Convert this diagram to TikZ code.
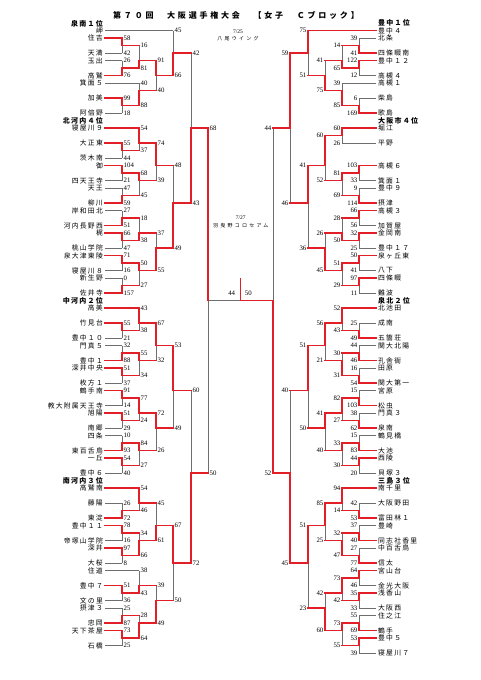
\documentclass[tikz,border=0pt]{standalone}
\usepackage{fontspec}
\setmainfont{Liberation Serif}
\newfontfamily\jp[LetterSpace=18]{Noto Sans CJK JP}
\newfontfamily\jpt[LetterSpace=35]{Noto Sans CJK JP}
\newfontfamily\jpd[LetterSpace=45]{Noto Sans CJK JP}
\definecolor{myred}{RGB}{226,30,38}
\definecolor{mygray}{RGB}{110,110,110}
\pgfdeclarelayer{back}
\pgfdeclarelayer{bg}
\pgfsetlayers{back,bg,main}
\tikzset{
  win/.style={draw=myred, line width=1.3pt, line cap=rect},
  lose/.style={draw=mygray, line width=0.6pt},
  sc/.style={font=\fontsize{6.8}{7}\selectfont, inner sep=0.3pt, anchor=west, xshift=1.2pt},
  tn/.style={font=\jp\fontsize{6.8}{8}\selectfont, inner sep=0pt, anchor=east},
  hd/.style={font=\jp\bfseries\fontsize{7}{8}\selectfont, inner sep=0pt, anchor=east},
  dt/.style={font=\fontsize{5.5}{6}\selectfont, inner sep=0pt},
  dtj/.style={font=\jpd\fontsize{5}{6}\selectfont, inner sep=0pt},
  fs/.style={font=\fontsize{6.8}{7}\selectfont, inner sep=0pt}
}
\def\Wn{W}\def\Ls{L}
\newcommand\Seg[2]{\ifx#1\Wn\draw[win] #2;\else\begin{pgfonlayer}{bg}\draw[lose] #2;\end{pgfonlayer}\fi}
% #1 col, #2 src x top, #3 row top, #4 src x bot, #5 row bot, #6 out row, #7 score top, #8 score bot, #9 winner
\newcommand\Mt[9]{%
  \ifnum#2=105\relax\ifnum#9=1\relax\let\tc\Wn\else\let\tc\Ls\fi\else\let\tc\Wn\fi
  \ifnum#4=105\relax\ifnum#9=2\relax\let\bc\Wn\else\let\bc\Ls\fi\else\let\bc\Wn\fi
  \ifnum#9=1\relax\let\vt\Wn\let\vb\Ls\else\let\vt\Ls\let\vb\Wn\fi
  \Seg\tc{(#2,#3) -- (#1,#3)}%
  \Seg\bc{(#4,#5) -- (#1,#5)}%
  \Seg\vt{(#1,#3) -- (#1,#6)}%
  \Seg\vb{(#1,#6) -- (#1,#5)}%
  \node[sc] at (#1,#3) {#7};
  \node[sc] at (#1,#5) {#8};
}
\newcommand\Tm[2]{\node[tn] (\sd#1) at (103,#1) {#2};}
\newcommand\Hd[2]{\node[hd] (h\sd#1) at (103,#1) {#2};}
\begin{document}
\begin{tikzpicture}[x=1pt,y=1pt]
\useasboundingbox (0,0) rectangle (481,-680);
\begin{pgfonlayer}{back}\fill[white] (0,0) rectangle (481,-680);\end{pgfonlayer}
\node[font=\jpt\bfseries\fontsize{8}{9}\selectfont, inner sep=0pt] (title) at (236,-15) {第７０回　大阪選手権大会　【女子　Ｃブロック】};
\node[dt] (d1) at (238,-31.7) {7/25};
\node[dtj] (v1) at (238,-38.6) {八尾ウイング};
\node[dt] (d2) at (240.7,-218) {7/27};
\node[dtj] (v2) at (240.7,-225.7) {羽曳野コロセアム};
%%%%%%%%%%%%%%%% LEFT
\begin{scope}[y=-7.5pt, yshift=-30.6pt]
\def\sd{L}
\Hd{-0.9}{泉南１位}\Hd{12}{北河内４位}\Hd{36}{中河内２位}\Hd{60}{南河内３位}
\Tm{0}{岬}\Tm{1}{住吉}\Tm{3}{天満}\Tm{4}{玉出}\Tm{6}{高鷲}\Tm{7}{箕面５}\Tm{9}{加美}\Tm{11}{阿倍野}
\Tm{13}{寝屋川９}\Tm{15}{大正東}\Tm{17}{茨木南}\Tm{18}{御}\Tm{20}{四天王寺}\Tm{21}{天王}\Tm{23}{柳川}
\Tm{24}{岸和田北}\Tm{26}{河内長野西}\Tm{27}{梶}\Tm{29}{桃山学院}\Tm{30}{泉大津東陵}\Tm{32}{寝屋川８}\Tm{33}{新生野}\Tm{35}{佐井寺}
\Tm{37}{高美}\Tm{39}{竹見台}\Tm{41}{豊中１０}\Tm{42}{門真５}\Tm{44}{豊中１}\Tm{45}{深井中央}\Tm{47}{枚方１}
\Tm{48}{鶴手南}\Tm{50}{教大附属天王寺}\Tm{51}{旭陽}\Tm{53}{南郷}\Tm{54}{四条}\Tm{56}{東百舌鳥}\Tm{57}{一丘}\Tm{59}{豊中６}
\Tm{61}{高鷲南}\Tm{63}{藤陽}\Tm{65}{東淀}\Tm{66}{豊中１１}\Tm{68}{帝塚山学院}\Tm{69}{深井}\Tm{71}{大桜}
\Tm{72}{住道}\Tm{74}{豊中７}\Tm{76}{文の里}\Tm{77}{摂津３}\Tm{79}{忠岡}\Tm{80}{天下茶屋}\Tm{82}{石橋}
\Mt{122}{105}{1}{105}{3}{2}{58}{42}{1}
\Mt{122}{105}{4}{105}{6}{5}{26}{76}{2}
\Mt{139}{122}{2}{122}{5}{4}{16}{81}{2}
\Mt{122}{105}{9}{105}{11}{10}{99}{18}{1}
\Mt{139}{105}{7}{122}{10}{8}{40}{88}{2}
\Mt{156}{139}{4}{139}{8}{6}{91}{40}{1}
\Mt{173}{105}{0}{156}{6}{3}{45}{66}{2}
\Mt{122}{105}{15}{105}{17}{16}{55}{44}{1}
\Mt{139}{105}{13}{122}{16}{15}{54}{37}{1}
\Mt{122}{105}{18}{105}{20}{19}{104}{21}{1}
\Mt{122}{105}{21}{105}{23}{22}{47}{59}{2}
\Mt{139}{122}{19}{122}{22}{20}{68}{45}{1}
\Mt{156}{139}{15}{139}{20}{18}{74}{39}{1}
\Mt{122}{105}{24}{105}{26}{25}{27}{51}{2}
\Mt{122}{105}{27}{105}{29}{28}{66}{47}{1}
\Mt{139}{122}{25}{122}{28}{27}{18}{38}{2}
\Mt{122}{105}{30}{105}{32}{31}{71}{16}{1}
\Mt{122}{105}{33}{105}{35}{34}{0}{157}{2}
\Mt{139}{122}{31}{122}{34}{32}{50}{27}{1}
\Mt{156}{139}{27}{139}{32}{29}{37}{55}{2}
\Mt{173}{156}{18}{156}{29}{23}{48}{49}{2}
\Mt{191}{173}{3}{173}{23}{13}{42}{43}{2}
\Mt{122}{105}{39}{105}{41}{40}{55}{21}{1}
\Mt{139}{105}{37}{122}{40}{39}{43}{38}{1}
\Mt{122}{105}{42}{105}{44}{43}{32}{88}{2}
\Mt{122}{105}{45}{105}{47}{46}{51}{37}{1}
\Mt{139}{122}{43}{122}{46}{44}{55}{34}{1}
\Mt{156}{139}{39}{139}{44}{42}{67}{32}{1}
\Mt{122}{105}{48}{105}{50}{49}{91}{14}{1}
\Mt{122}{105}{51}{105}{53}{52}{51}{29}{1}
\Mt{139}{122}{49}{122}{52}{51}{77}{24}{1}
\Mt{122}{105}{54}{105}{56}{55}{10}{93}{2}
\Mt{122}{105}{57}{105}{59}{58}{54}{40}{1}
\Mt{139}{122}{55}{122}{58}{56}{84}{27}{1}
\Mt{156}{139}{51}{139}{56}{53}{72}{26}{1}
\Mt{173}{156}{42}{156}{53}{48}{53}{49}{1}
\Mt{122}{105}{63}{105}{65}{64}{26}{72}{2}
\Mt{139}{105}{61}{122}{64}{63}{54}{46}{1}
\Mt{122}{105}{66}{105}{68}{67}{78}{16}{1}
\Mt{122}{105}{69}{105}{71}{70}{97}{8}{1}
\Mt{139}{122}{67}{122}{70}{68}{34}{66}{2}
\Mt{156}{139}{63}{139}{68}{66}{45}{61}{2}
\Mt{122}{105}{74}{105}{76}{75}{51}{36}{1}
\Mt{139}{105}{72}{122}{75}{74}{38}{43}{2}
\Mt{122}{105}{77}{105}{79}{78}{25}{87}{2}
\Mt{122}{105}{80}{105}{82}{81}{73}{25}{1}
\Mt{139}{122}{78}{122}{81}{79}{28}{64}{2}
\Mt{156}{139}{74}{139}{79}{76}{39}{49}{2}
\Mt{173}{156}{66}{156}{76}{71}{67}{50}{1}
\Mt{191}{173}{48}{173}{71}{59}{60}{72}{2}
\Mt{208}{191}{13}{191}{59}{36}{68}{50}{1}
% final
\coordinate (fl) at (208,36);
\coordinate (fc) at (240.5,36);
\coordinate (fr) at (273,36);
\coordinate (ft) at (240.5,33.1);
\begin{pgfonlayer}{bg}\draw[lose] (fl) -- (fc);\end{pgfonlayer}
\draw[win] (fc) -- (fr);
\draw[win] (fc) -- (ft);
\node[fs] (fsl) at (231.7,35.0) {44};
\node[fs] (fsr) at (248.3,35.0) {50};
\end{scope}
%%%%%%%%%%%%%%%% RIGHT
\begin{scope}[y=-7.5pt, yshift=-30.6pt, x=-1pt, xshift=481pt,
  sc/.style={font=\fontsize{6.8}{7}\selectfont, inner sep=0.3pt, anchor=east, xshift=-1.2pt},
  tn/.style={font=\jp\fontsize{6.8}{8}\selectfont, inner sep=0pt, anchor=west},
  hd/.style={font=\jp\bfseries\fontsize{7}{8}\selectfont, inner sep=0pt, anchor=west}]
\def\sd{R}
\Hd{-1}{豊中１位}\Hd{12}{大阪市４位}\Hd{36}{泉北２位}\Hd{60}{三島３位}
\Tm{0}{豊中４}\Tm{1}{北条}\Tm{3}{四條畷南}\Tm{4}{豊中１２}\Tm{6}{高槻４}\Tm{7}{高槻１}\Tm{9}{柴島}\Tm{11}{歌島}
\Tm{13}{堀江}\Tm{15}{平野}\Tm{18}{高槻６}\Tm{20}{箕面１}\Tm{21}{豊中９}\Tm{23}{摂津}\Tm{24}{高槻３}\Tm{26}{加賀屋}
\Tm{27}{金岡南}\Tm{29}{豊中１７}\Tm{30}{泉ヶ丘東}\Tm{32}{八下}\Tm{33}{四條畷}\Tm{35}{難波}
\Tm{37}{北池田}\Tm{39}{成南}\Tm{41}{五箇荘}\Tm{42}{関大北陽}\Tm{44}{孔舎衙}\Tm{45}{田原}\Tm{47}{関大第一}
\Tm{48}{宮原}\Tm{50}{松虫}\Tm{51}{門真３}\Tm{53}{泉南}\Tm{54}{鶴見橋}\Tm{56}{大池}\Tm{57}{西陵}\Tm{59}{貝塚３}
\Tm{61}{南千里}\Tm{63}{大阪野田}\Tm{65}{富田林１}\Tm{66}{豊崎}\Tm{68}{同志社香里}\Tm{69}{中百舌鳥}\Tm{71}{信太}
\Tm{72}{宮山台}\Tm{74}{金光大阪}\Tm{75}{浅香山}\Tm{77}{大阪西}\Tm{78}{住之江}\Tm{80}{鶴手}\Tm{81}{豊中５}\Tm{83}{寝屋川７}
\Mt{122}{105}{1}{105}{3}{2}{39}{41}{2}
\Mt{122}{105}{4}{105}{6}{5}{122}{12}{1}
\Mt{139}{122}{2}{122}{5}{4}{14}{65}{2}
\Mt{122}{105}{9}{105}{11}{10}{6}{169}{2}
\Mt{139}{105}{7}{122}{10}{8}{39}{85}{2}
\Mt{156}{139}{4}{139}{8}{6}{41}{75}{2}
\Mt{173}{105}{0}{156}{6}{3}{75}{51}{1}
\Mt{139}{105}{13}{105}{15}{14}{60}{26}{1}
\Mt{122}{105}{18}{105}{20}{19}{103}{33}{1}
\Mt{122}{105}{21}{105}{23}{22}{9}{114}{2}
\Mt{139}{122}{19}{122}{22}{20}{81}{69}{1}
\Mt{156}{139}{14}{139}{20}{18}{60}{52}{1}
\Mt{122}{105}{24}{105}{26}{25}{66}{56}{1}
\Mt{122}{105}{27}{105}{29}{28}{32}{25}{1}
\Mt{139}{122}{25}{122}{28}{27}{28}{50}{2}
\Mt{122}{105}{30}{105}{32}{31}{50}{41}{1}
\Mt{122}{105}{33}{105}{35}{34}{97}{11}{1}
\Mt{139}{122}{31}{122}{34}{32}{51}{29}{1}
\Mt{156}{139}{27}{139}{32}{29}{26}{45}{2}
\Mt{173}{156}{18}{156}{29}{23}{41}{36}{1}
\Mt{191}{173}{3}{173}{23}{13}{59}{46}{1}
\Mt{122}{105}{39}{105}{41}{40}{25}{49}{2}
\Mt{139}{105}{37}{122}{40}{39}{52}{43}{1}
\Mt{122}{105}{42}{105}{44}{43}{44}{46}{2}
\Mt{122}{105}{45}{105}{47}{46}{16}{54}{2}
\Mt{139}{122}{43}{122}{46}{44}{30}{31}{2}
\Mt{156}{139}{39}{139}{44}{42}{56}{21}{1}
\Mt{122}{105}{48}{105}{50}{49}{15}{103}{2}
\Mt{122}{105}{51}{105}{53}{52}{38}{62}{2}
\Mt{139}{122}{49}{122}{52}{51}{82}{27}{1}
\Mt{122}{105}{54}{105}{56}{55}{15}{83}{2}
\Mt{122}{105}{57}{105}{59}{58}{44}{20}{1}
\Mt{139}{122}{55}{122}{58}{56}{33}{30}{1}
\Mt{156}{139}{51}{139}{56}{53}{41}{40}{1}
\Mt{173}{156}{42}{156}{53}{48}{51}{50}{1}
\Mt{122}{105}{63}{105}{65}{64}{42}{53}{2}
\Mt{139}{105}{61}{122}{64}{63}{94}{14}{1}
\Mt{122}{105}{66}{105}{68}{67}{37}{40}{2}
\Mt{122}{105}{69}{105}{71}{70}{27}{77}{2}
\Mt{139}{122}{67}{122}{70}{68}{32}{47}{2}
\Mt{156}{139}{63}{139}{68}{66}{85}{25}{1}
\Mt{122}{105}{72}{105}{74}{73}{64}{46}{1}
\Mt{122}{105}{75}{105}{77}{76}{35}{33}{1}
\Mt{139}{122}{73}{122}{76}{75}{73}{42}{1}
\Mt{122}{105}{78}{105}{80}{79}{55}{69}{2}
\Mt{122}{105}{81}{105}{83}{82}{53}{39}{1}
\Mt{139}{122}{79}{122}{82}{80}{73}{55}{1}
\Mt{156}{139}{75}{139}{80}{77}{42}{60}{2}
\Mt{173}{156}{66}{156}{77}{71}{51}{23}{1}
\Mt{191}{173}{48}{173}{71}{59}{40}{45}{2}
\Mt{208}{191}{13}{191}{59}{36}{44}{52}{2}
\end{scope}
\end{tikzpicture}
\end{document}
